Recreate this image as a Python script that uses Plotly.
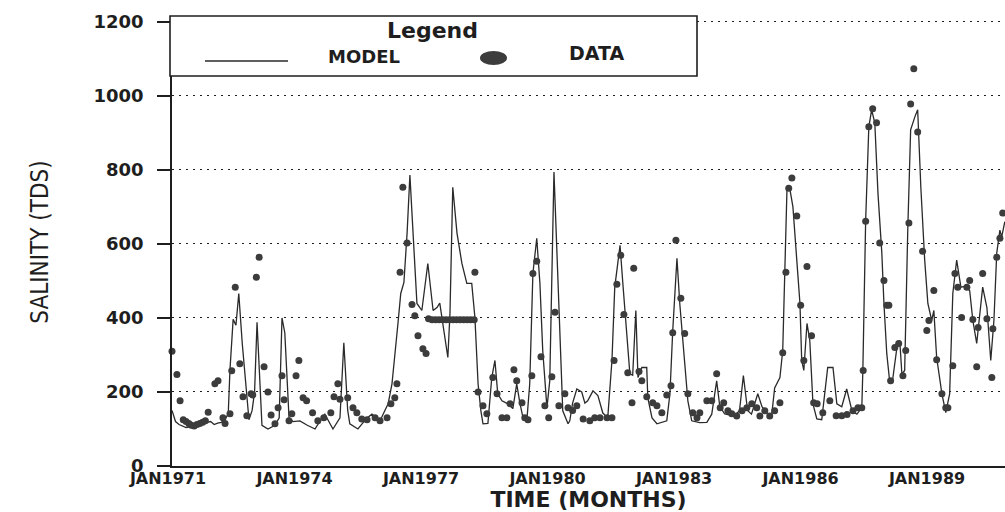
import plotly.graph_objects as go

# ---------------- data (months since JAN 1971, salinity TDS) ----------------
MODEL_MONTH = [0, 1, 2, 3, 4, 5, 6, 7, 8, 9, 10, 11, 12, 13, 14, 15, 16, 16.5, 17.4, 18.2, 19, 20, 21.3, 21.9,
               22.8, 23.5, 24.2, 25, 25.6, 27.3, 29.3, 30.5, 31.3, 32.1, 33.3, 34.4, 36.4, 38.5, 40.7, 42,
               43.5, 45.8, 47.8, 48.9, 50, 50.6, 52.9, 55.5, 56.9, 59.2, 61.5, 62.6, 63.4, 64.3, 65.1, 66,
               66.9, 67.7, 68.6, 69.7, 71.1, 72.8, 74.3, 75.4, 76.2, 76.8, 78.5, 79.1, 79.9, 81.1, 82.5,
               83.9, 85.3, 86.2, 87.1, 87.9, 88.5, 89.9, 91, 91.9, 92.7, 93.9, 95.6, 97, 98.1, 99, 99.9,
               101, 101.8, 102.7, 103.8, 104.7, 105.5, 106.7, 107.5, 108.7, 109.5, 110.4, 111.2, 112.7,
               113.2, 114, 115.2, 116.6, 117.5, 118.3, 119.8, 121.2, 122.6, 124, 125.2, 126, 127.5, 128.3,
               129.4, 130.3, 131.1, 132, 132.6, 133.7, 135.1, 135.4, 136.6, 138, 140.8, 141.7, 142.5,
               143.7, 144.5, 145.9, 146.8, 147.9, 150.2, 152.2, 153.6, 155, 155.9, 157.3, 160.1, 161.5,
               162.6, 163.8, 164.9, 166.7, 167.9, 169.6, 170.7, 171.5, 173, 173.8, 174.4, 175, 175.8,
               176.7, 177.8, 178.7, 179.2, 179.8, 180.7, 181.5, 182.4, 183.5, 184.9, 185.8, 186.6, 188.1,
               189.2, 190.6, 192, 193.5, 194.9, 196.3, 196.6, 197.4, 198.3, 199.1, 200, 200.9, 202, 202.6,
               203.4, 204.3, 205.1, 206.3, 207.1, 207.7, 208.5, 209.4, 210.2, 211.4, 212.2, 213.1, 214.2,
               215.1, 216.2, 216.8, 217.6, 219.1, 220.2, 221.3, 222.2, 223.3, 224.5, 225.6, 227, 227.9,
               229, 229.6, 230.7, 231.9, 233, 233.9, 234.7, 235.6, 236.1, 237]
MODEL_TDS = [150, 120, 112, 108, 104, 106, 108, 110, 114, 112, 118, 120, 112, 116, 118, 125, 140, 260, 396, 380,
             466, 330, 176, 125, 150, 200, 388, 250, 110, 100, 110, 130, 400, 360, 130, 120, 122, 110, 100, 120,
             140, 100, 130, 333, 150, 114, 100, 130, 140, 122, 168, 222, 293, 385, 466, 496, 629, 786, 629,
             439, 420, 547, 420, 428, 440, 400, 293, 411, 753, 629, 547, 493, 493, 401, 222, 149, 114, 115,
             239, 285, 195, 176, 168, 155, 222, 170, 130, 125, 222, 520, 615, 493, 312, 157, 230, 794, 583,
             312, 149, 114, 122, 170, 208, 200, 170, 176, 203, 190, 143, 130, 285, 483, 596, 493, 347, 249,
             245, 420, 239, 266, 266, 184, 130, 114, 122, 195, 366, 561, 439, 285, 176, 122, 117, 118, 140,
             230, 160, 141, 135, 150, 244, 150, 140, 195, 160, 140, 141, 211, 239, 312, 520, 745, 750, 700,
             556, 439, 285, 258, 385, 339, 168, 127, 125, 200, 266, 266, 168, 160, 208, 149, 140, 157, 258,
             664, 916, 962, 927, 737, 575, 439, 304, 222, 235, 320, 339, 249, 258, 645, 908, 943, 962, 753,
             556, 439, 393, 420, 293, 195, 144, 195, 466, 556, 483, 485, 474, 393, 331, 385, 483, 428, 285,
             393, 575, 637, 618, 660]

DATA_MONTH = [0, 1.4, 2.3, 3.2, 4, 4.8, 5.5, 6.3, 7.1, 7.9, 8.7, 9.5, 10.3, 12.2, 13.1, 14.5, 15.1, 16.5, 17,
              18, 19.3, 20.2, 21.3, 22.5, 23, 24, 24.8, 26.2, 27.3, 28.2, 29.3, 30.2, 31.3, 31.9, 33.3, 34.1,
              35.3, 36.1, 37.3, 38.3, 40, 41.5, 43.2, 45.2, 46.1, 47.2, 47.8, 50, 51.5, 52.6, 54, 55.5, 57.8,
              59.2, 61.2, 62.3, 63.4, 64, 64.9, 65.7, 66.9, 68.3, 69.1, 70, 71.4, 72.3, 73, 74, 75, 76, 77,
              78, 79, 80, 81, 82, 83, 84, 85, 86, 86.2, 87.1, 88.5, 89.6, 91.3, 92.5, 93.9, 95.3, 96.2, 97.3,
              98.1, 99.6, 100.4, 101.3, 102.4, 102.7, 103.8, 105, 106.1, 107.2, 108.1, 109, 110.1, 111.8,
              112.7, 114, 115.2, 117, 118.9, 120.3, 121.8, 123.8, 125.2, 125.8, 126.6, 127.7, 128.6, 129.7,
              130.9, 131.4, 132.9, 133.7, 135.1, 136.8, 138, 139.4, 140.8, 142, 142.5, 143.4, 144.8, 145.9,
              146.8, 148.2, 149.4, 150.2, 152.2, 153.6, 155, 156, 157, 158.2, 159.3, 160.7, 162.2, 163.6,
              165, 166.4, 167.3, 168.7, 170.1, 171.5, 173, 173.8, 174.7, 175.5, 176.4, 177.8, 178.9, 179.8,
              180.7, 182, 182.6, 183.6, 185.2, 187.2, 189, 190.6, 192.1, 193.8, 195.2, 196.3, 196.7, 197.4,
              198.3, 199.4, 200.5, 201.4, 202.6, 203.4, 204, 204.5, 205.7, 206.8, 208, 208.8, 209.7, 210.2,
              211.1, 212.2, 213.6, 214.8, 215.4, 216.8, 217.6, 219.1, 220.2, 220.8, 222.2, 222.8, 223.6,
              224.7, 226.2, 227, 227.9, 229, 229.4, 230.7, 231.9, 233.3, 233.6, 234.7, 235.6, 236.4]
DATA_TDS = [310, 247, 176, 125, 120, 115, 110, 108, 112, 115, 118, 122, 145, 222, 230, 130, 115, 141, 257, 483,
            276, 187, 136, 195, 192, 510, 564, 268, 200, 138, 114, 157, 244, 179, 122, 141, 244, 285, 184,
            176, 144, 122, 130, 144, 187, 222, 180, 184, 157, 144, 127, 125, 130, 122, 130, 168, 184, 222,
            523, 753, 602, 436, 406, 352, 317, 304, 398, 395, 395, 395, 395, 395, 395, 395, 395, 395, 395,
            395, 395, 395, 523, 200, 163, 141, 239, 195, 130, 130, 168, 260, 230, 171, 130, 125, 244, 520,
            553, 295, 163, 130, 241, 415, 163, 195, 157, 150, 163, 127, 122, 130, 130, 130, 130, 285, 491,
            569, 409, 252, 171, 534, 255, 230, 187, 171, 163, 144, 192, 217, 360, 610, 453, 358, 195, 144,
            130, 144, 176, 176, 249, 157, 171, 149, 141, 135, 149, 157, 168, 157, 135, 149, 135, 149, 171,
            306, 523, 750, 778, 675, 434, 285, 539, 352, 171, 168, 144, 176, 136, 136, 139, 149, 157, 157,
            258, 661, 916, 965, 927, 602, 501, 434, 434, 230, 320, 331, 244, 312, 656, 978, 1073, 902, 580,
            366, 393, 474, 287, 195, 157, 157, 271, 520, 483, 401, 483, 501, 396, 268, 374, 520, 398, 239,
            371, 564, 615, 683]

TICK_YEARS = [1971, 1974, 1977, 1980, 1983, 1986, 1989]
TICK_LABELS = ["JAN1971", "JAN1974", "JAN1977", "JAN1980", "JAN1983", "JAN1986", "JAN1989"]
Y_TICKS = [0, 200, 400, 600, 800, 1000, 1200]

INK = "#1e1e1e"
WIDE = "DejaVu Sans, Verdana, Liberation Sans, sans-serif"

fig = go.Figure()
fig.add_trace(go.Scatter(x=MODEL_MONTH, y=MODEL_TDS, mode="lines", name="MODEL",
                         line=dict(color="#2a2a2a", width=1.3), cliponaxis=False, showlegend=False))
fig.add_trace(go.Scatter(x=DATA_MONTH, y=DATA_TDS, mode="markers", name="DATA",
                         marker=dict(color="#3c3c3c", size=7, line=dict(width=0)),
                         cliponaxis=False, showlegend=False))

# ---------- layout geometry (pixels) ----------
L, T, R, B = 172, 18, 0, 46
W, H = 1005, 512
pw, ph = W - L - R, H - T - B


def px(xp):
    return (xp - L) / pw


def py(yp):
    return (H - B - yp) / ph


shapes = [
    dict(type="rect", xref="paper", yref="paper", x0=px(170), x1=px(697), y0=py(76), y1=py(16),
         line=dict(color=INK, width=1.6), fillcolor="white", layer="above"),
    dict(type="line", xref="paper", yref="paper", x0=px(205), x1=px(288), y0=py(61), y1=py(61),
         line=dict(color="#2a2a2a", width=1.3), layer="above"),
    dict(type="circle", xref="paper", yref="paper", x0=px(480), x1=px(507), y0=py(65), y1=py(51),
         line=dict(color="#3c3c3c", width=0), fillcolor="#3c3c3c", layer="above"),
]
annotations = [
    dict(text="Legend", xref="paper", yref="paper", x=px(432), y=py(31), showarrow=False,
         xanchor="center", yanchor="middle",
         font=dict(family=WIDE, size=22, color=INK, weight="bold")),
    dict(text="MODEL", xref="paper", yref="paper", x=px(364), y=py(57), showarrow=False,
         xanchor="center", yanchor="middle",
         font=dict(family=WIDE, size=18, color=INK, weight="bold")),
    dict(text="DATA", xref="paper", yref="paper", x=px(596), y=py(53), showarrow=False,
         xanchor="center", yanchor="middle",
         font=dict(family=WIDE, size=19, color=INK, weight="bold")),
]

fig.update_layout(
    width=W, height=H, margin=dict(l=L, r=R, t=T, b=B, autoexpand=False),
    paper_bgcolor="white", plot_bgcolor="white",
    shapes=shapes, annotations=annotations, showlegend=False,
)
fig.update_xaxes(
    automargin=False,
    range=[0, (W - L - R) / 3.514], tickmode="array",
    tickvals=[(y - 1971) * 12 for y in TICK_YEARS], ticktext=TICK_LABELS,
    showline=True, linecolor=INK, linewidth=2, ticks="", showgrid=False, zeroline=False,
    tickfont=dict(family=WIDE, size=16, color=INK, weight="bold"), ticklabelshift=-4,
    ticklabelstandoff=-3,
    title=dict(text="TIME (MONTHS)", standoff=5,
               font=dict(family=WIDE, size=22, color=INK, weight="bold")),
)
fig.update_yaxes(
    automargin=False,
    range=[0, 1210], tickmode="array", tickvals=Y_TICKS,
    showline=True, linecolor=INK, linewidth=1.5, ticks="outside", ticklen=13, tickwidth=1.5,
    tickcolor=INK, showgrid=True, gridcolor=INK, gridwidth=1.4, griddash="2px,5px", zeroline=False,
    tickfont=dict(family=WIDE, size=18, color=INK, weight="bold"), ticklabelstandoff=10,
    title=dict(text="SALINITY (TDS)", standoff=38,
               font=dict(family="Liberation Sans Narrow, DejaVu Sans Condensed, Liberation Sans, sans-serif",
                         size=24, color=INK)),
)

fig.write_html("out.html")
